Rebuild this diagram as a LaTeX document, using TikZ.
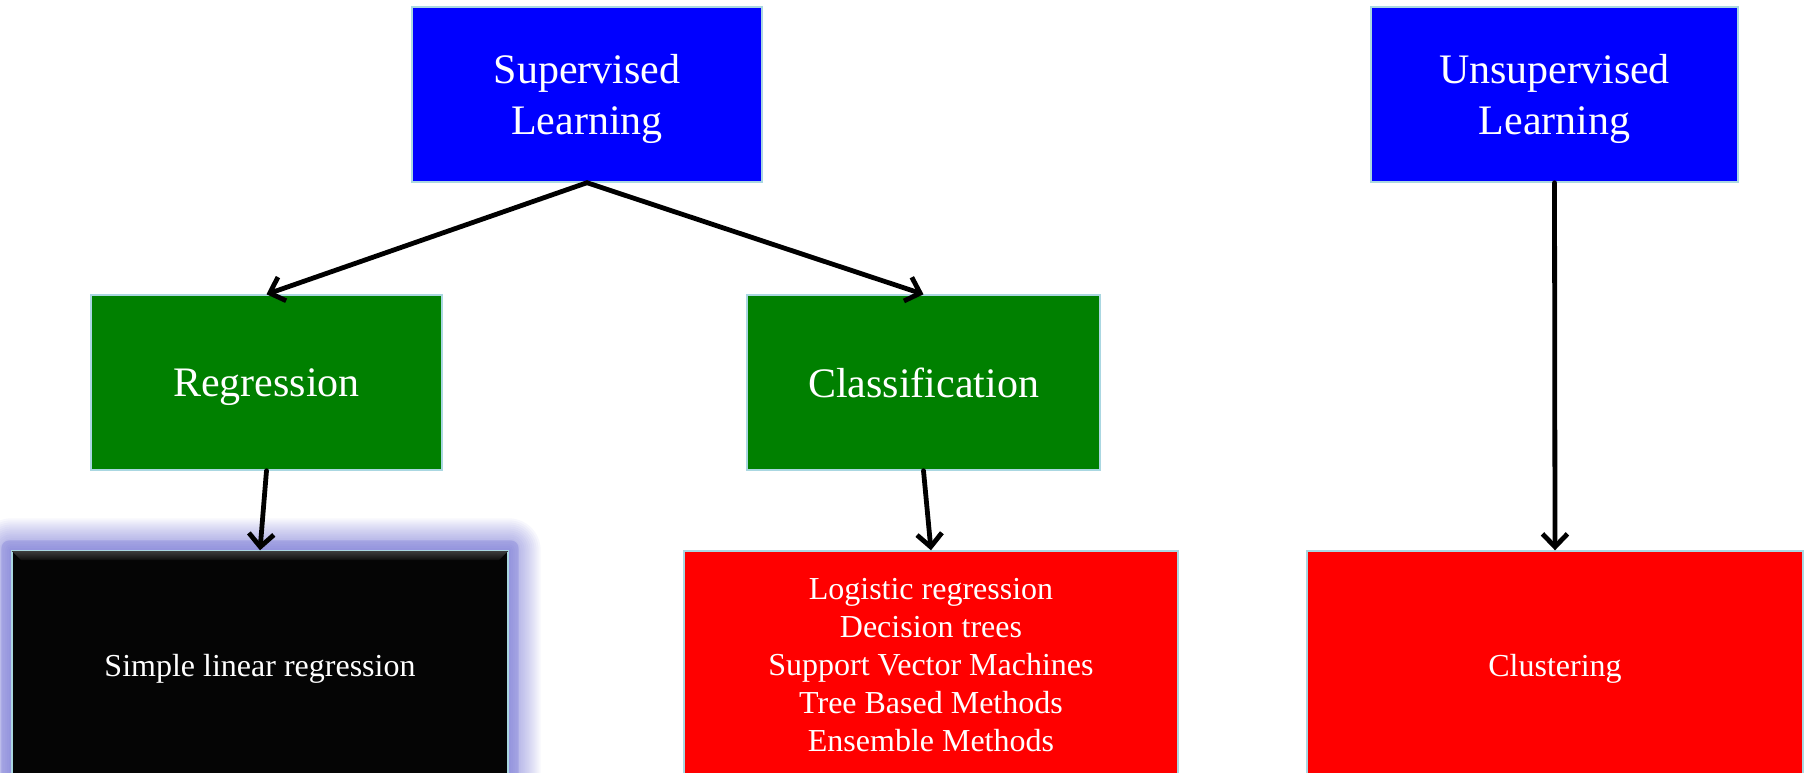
\documentclass[tikz,border=0pt]{standalone}
\usepackage{fontspec}
\setmainfont{Liberation Serif}
\usetikzlibrary{arrows.meta,backgrounds}
\definecolor{edgeblue}{RGB}{170,215,225}
\definecolor{glowblue}{RGB}{80,80,200}
\definecolor{darkgreen}{RGB}{0,128,0}
\begin{document}
\begin{tikzpicture}[x=0.5pt,y=-0.5pt,
        block/.style={
            draw=edgeblue, line width=0.7pt,
            rectangle, minimum height=87.5pt, inner sep=0pt,
            text depth=0pt, text=white, align=center},
        learning/.style={block, fill=blue,
            font=\fontsize{21}{25.5}\selectfont},
        task/.style={block, fill=darkgreen,
            font=\fontsize{21}{25.5}\selectfont},
        method/.style={block, fill=red, minimum height=114pt,
            font=\fontsize{16}{19}\selectfont},
        link/.style={line width=2.4pt, line cap=round,
            -{Straight Barb[length=6.5pt,width=12.5pt,line width=2.4pt]}}]
        %frame
        \useasboundingbox (0,0) rectangle (1806,772);
        \clip (0,0) rectangle (1806,772);
        %top level
        \node[learning, minimum width=175pt] (sup) at (587,94.5)
            {Supervised\\Learning};
        \node[learning, minimum width=183.5pt] (unsup) at (1554.5,94.5)
            {Unsupervised\\Learning};
        %tasks
        \node[task, minimum width=175.5pt] (regr) at (266.5,382.5) {Regression};
        \node[task, minimum width=176.5pt] (clas) at (923.5,382.5) {Classification};
        %methods
        \node[method, fill={rgb,255:red,5;green,5;blue,5}, minimum width=248pt]
            (linreg) at (260,665) {Simple linear regression};
        \node[method, minimum width=247pt] (clasmeth) at (931,665)
            {Logistic regression\\Decision trees\\Support Vector Machines\\
             Tree Based Methods\\Ensemble Methods};
        \node[method, minimum width=248pt] (clust) at (1555,665) {Clustering};
        %glow and bevel
        \begin{scope}[on background layer]
            \fill[glowblue, opacity=0.2, rounded corners=4pt]
                ([xshift=-5pt, yshift=5pt]linreg.north west) rectangle
                ([xshift=5pt, yshift=-5pt]linreg.south east);
            \foreach \g in {1,...,16}
            \fill[glowblue, opacity=0.045, rounded corners=\g*1pt]
                ([xshift=-\g*1pt, yshift=\g*1pt]linreg.north west) rectangle
                ([xshift=\g*1pt, yshift=-\g*1pt]linreg.south east);
        \end{scope}
        \fill[top color=gray!50!black, bottom color=black!95]
            (linreg.north west) -- (linreg.north east) --
            ([xshift=-5pt, yshift=-5pt]linreg.north east) --
            ([xshift=5pt, yshift=-5pt]linreg.north west) -- cycle;
        \draw[edgeblue, line width=0.7pt] (linreg.north west) -- (linreg.north east);
        %links
        \draw[link] (sup.south) -- (regr.north);
        \draw[link] (sup.south) -- (clas.north);
        \draw[link] (regr.south) -- (linreg.north);
        \draw[link] (clas.south) -- (clasmeth.north);
        \draw[link] (unsup.south) -- (clust.north);
    \end{tikzpicture}
\end{document}
